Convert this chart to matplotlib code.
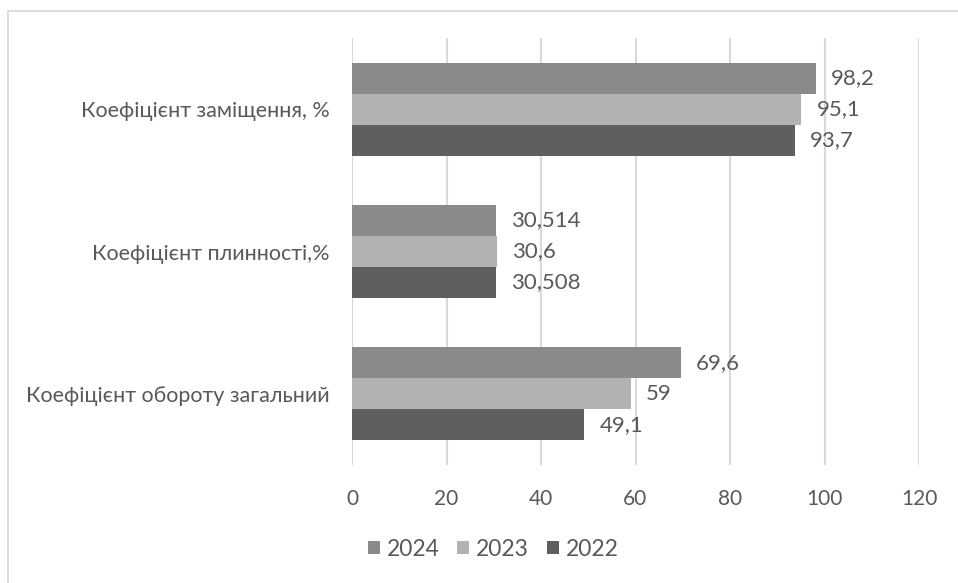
import matplotlib
matplotlib.use("Agg")
import matplotlib.pyplot as plt
from matplotlib.patches import Rectangle
import numpy as np

categories = ["Коефіцієнт заміщення, %", "Коефіцієнт плинності,%", "Коефіцієнт обороту загальний"]
years = ["2024", "2023", "2022"]
values_2024 = [98.2, 30.514, 69.6]
values_2023 = [95.1, 30.6, 59]
values_2022 = [93.7, 30.508, 49.1]
series = [values_2024, values_2023, values_2022]
colors = ["#8a8a8a", "#b2b2b2", "#5f5f5f"]
x_ticks = [0, 20, 40, 60, 80, 100, 120]

text_color = "#595959"
grid_color = "#d9d9d9"
plt.rcParams["font.family"] = ["Lato", "DejaVu Sans"]

W, H = 958, 583
fig = plt.figure(figsize=(W / 100, H / 100), dpi=100)
ax = fig.add_axes([352 / W, 1 - 465 / H, (919 - 352) / W, (465 - 38) / H])

# chart area frame
fig.add_artist(Rectangle((8 / W, -0.1), 1.2, (583 - 11) / H + 0.1, transform=fig.transFigure,
                         fill=False, edgecolor=grid_color, linewidth=1.3))

n = len(categories)
centers = np.arange(n)[::-1].astype(float)  # first category at the top
bar_h = 0.218
offsets = [-bar_h, 0.0, bar_h]  # 2024 on top within each group

def fmt(v):
    s = f"{v:.3f}".rstrip("0").rstrip(".")
    return s.replace(".", ",")

for vals, col, off, yr in zip(series, colors, offsets, years):
    ypos = centers - off
    bars = ax.barh(ypos, vals, height=bar_h, color=col, label=yr, zorder=3)
    for b, v in zip(bars, vals):
        ax.annotate(fmt(v), (v, b.get_y() + b.get_height() / 2), xytext=(11, 0),
                    textcoords="offset points", va="center", ha="left",
                    fontsize=16, color=text_color)

ax.set_xlim(0, 120)
ax.set_ylim(-0.5, n - 0.5)
ax.set_xticks(x_ticks)
ax.set_xticklabels([str(t) for t in x_ticks])
ax.set_yticks(centers)
ax.set_yticklabels(categories)
ax.tick_params(axis="x", length=0, pad=17, labelsize=15, labelcolor=text_color)
ax.tick_params(axis="y", length=0, pad=16, labelsize=15.5, labelcolor=text_color)
ax.grid(axis="x", color=grid_color, linewidth=1.5, zorder=0)
ax.set_axisbelow(True)
for s in ax.spines.values():
    s.set_visible(False)

leg = fig.legend(loc="center", bbox_to_anchor=(493 / W, 1 - 549 / H), ncol=3, frameon=False,
                 fontsize=16.5, handlelength=0.52, handleheight=0.52, handletextpad=0.3,
                 columnspacing=0.78, labelcolor=text_color)

fig.savefig("out.png", dpi=100, facecolor="white")
